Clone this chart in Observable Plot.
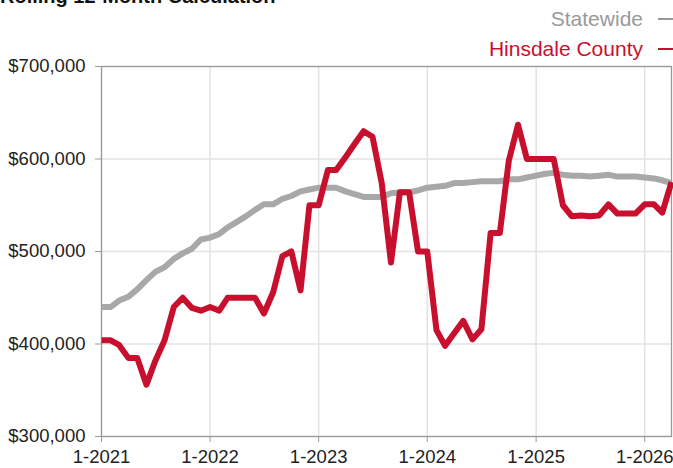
<!DOCTYPE html>
<html><head><meta charset="utf-8">
<script src="https://cdn.jsdelivr.net/npm/d3@7"></script>
<script src="https://cdn.jsdelivr.net/npm/@observablehq/plot@0.6"></script>
<style>
body{margin:0;background:#fff;font-family:"Liberation Sans",Arial,Helvetica,sans-serif;}
#wrap{position:relative;width:673px;height:468px;overflow:hidden;}
#title{position:absolute;left:0;top:-14px;font-size:20px;line-height:20px;font-weight:bold;color:#111;white-space:nowrap;}
.leg{position:absolute;right:0;font-size:21px;line-height:21px;white-space:nowrap;display:flex;align-items:center;}
.dash{display:inline-block;width:15px;height:2px;margin-left:15px;}
#chart{position:absolute;left:0;top:0;}
</style></head><body>
<div id="wrap">
  <div id="title">Rolling 12-Month Calculation</div>
  <div class="leg" id="leg1" style="top:8px;color:#999">Statewide<span class="dash" style="background:#999"></span></div>
  <div class="leg" id="leg2" style="top:38px;color:#c8102e">Hinsdale County<span class="dash" style="background:#c8102e"></span></div>
  <div id="chart"></div>
</div>
<script>
const seriesNames = ["Statewide", "Hinsdale County"];
const seriesColors = ["#a8a8a8", "#c8102e"];
const startMonth = "2021-01";
const statewide = [
  440000,440000,447000,451000,459000,469000,478000,483000,492000,498000,503000,513000,
  515000,519000,526000,532000,538000,545000,551000,551000,557000,560000,565000,567000,
  569000,569000,569000,565000,562000,559000,559000,559000,563000,564000,564000,566000,
  569000,570000,571000,574000,574000,575000,576000,576000,576000,578000,578000,580000,
  582000,584000,585000,583000,582000,582000,581000,582000,583000,581000,581000,581000,
  580000,579000,577000,574000
];
const hinsdale = [
  404000,404000,399000,385000,385000,356000,382000,404000,440000,450000,439000,436000,
  440000,436000,450000,450000,450000,450000,433000,456000,495000,500000,458000,550000,
  550000,588000,588000,602000,616000,630000,624000,574000,488000,564000,564000,500000,
  500000,415000,398000,412000,425000,405000,416000,520000,520000,598000,637000,600000,
  600000,600000,600000,550000,538000,539000,538000,539000,551000,541000,541000,541000,
  551000,551000,542000,575000
];
const yTicks = [300000, 400000, 500000, 600000, 700000];
const xTickLabels = ["1-2021","1-2022","1-2023","1-2024","1-2025","1-2026"];

const start = new Date(startMonth + "-01T00:00:00Z");
const months = statewide.map((_, i) => d3.utcMonth.offset(start, i));
const data = [];
seriesNames.forEach((name, s) => {
  const vals = s === 0 ? statewide : hinsdale;
  vals.forEach((v, i) => data.push({series: name, date: months[i], value: v}));
});
const xTicks = xTickLabels.map(l => new Date(l.split("-")[1] + "-01-01T00:00:00Z"));
const labelOf = new Map(xTicks.map((d, i) => [+d, xTickLabels[i]]));

const chart = Plot.plot({
  width: 673,
  height: 468,
  marginTop: 66,
  marginLeft: 101,
  marginRight: 2,
  marginBottom: 32,
  style: {fontFamily: '"Liberation Sans", Arial, sans-serif', background: "transparent", overflow: "visible"},
  x: {type: "utc", domain: [months[0], months[months.length - 1]]},
  y: {domain: [300000, 700000]},
  color: {domain: seriesNames, range: seriesColors},
  marks: [
    Plot.gridY(yTicks, {stroke: "#e2e2e2", strokeOpacity: 1, strokeWidth: 1.5}),
    Plot.gridX(xTicks, {stroke: "#e2e2e2", strokeOpacity: 1, strokeWidth: 1.5}),
    Plot.frame({stroke: "#9a9a9a", strokeWidth: 1.3}),
    Plot.axisY(yTicks, {tickFormat: d3.format("$,"), tickSize: 6, tickPadding: 10, fontSize: 18.5, stroke: "#9a9a9a", fill: "#222", label: null}),
    Plot.axisX(xTicks, {tickFormat: d => labelOf.get(+d), tickSize: 6, tickPadding: 7, fontSize: 18.5, stroke: "#9a9a9a", fill: "#222", label: null}),
    Plot.line(data, {x: "date", y: "value", z: "series", stroke: "series", strokeWidth: 6, strokeLinejoin: "round", strokeLinecap: "butt"})
  ]
});
document.getElementById("chart").appendChild(chart);
</script>
</body></html>
